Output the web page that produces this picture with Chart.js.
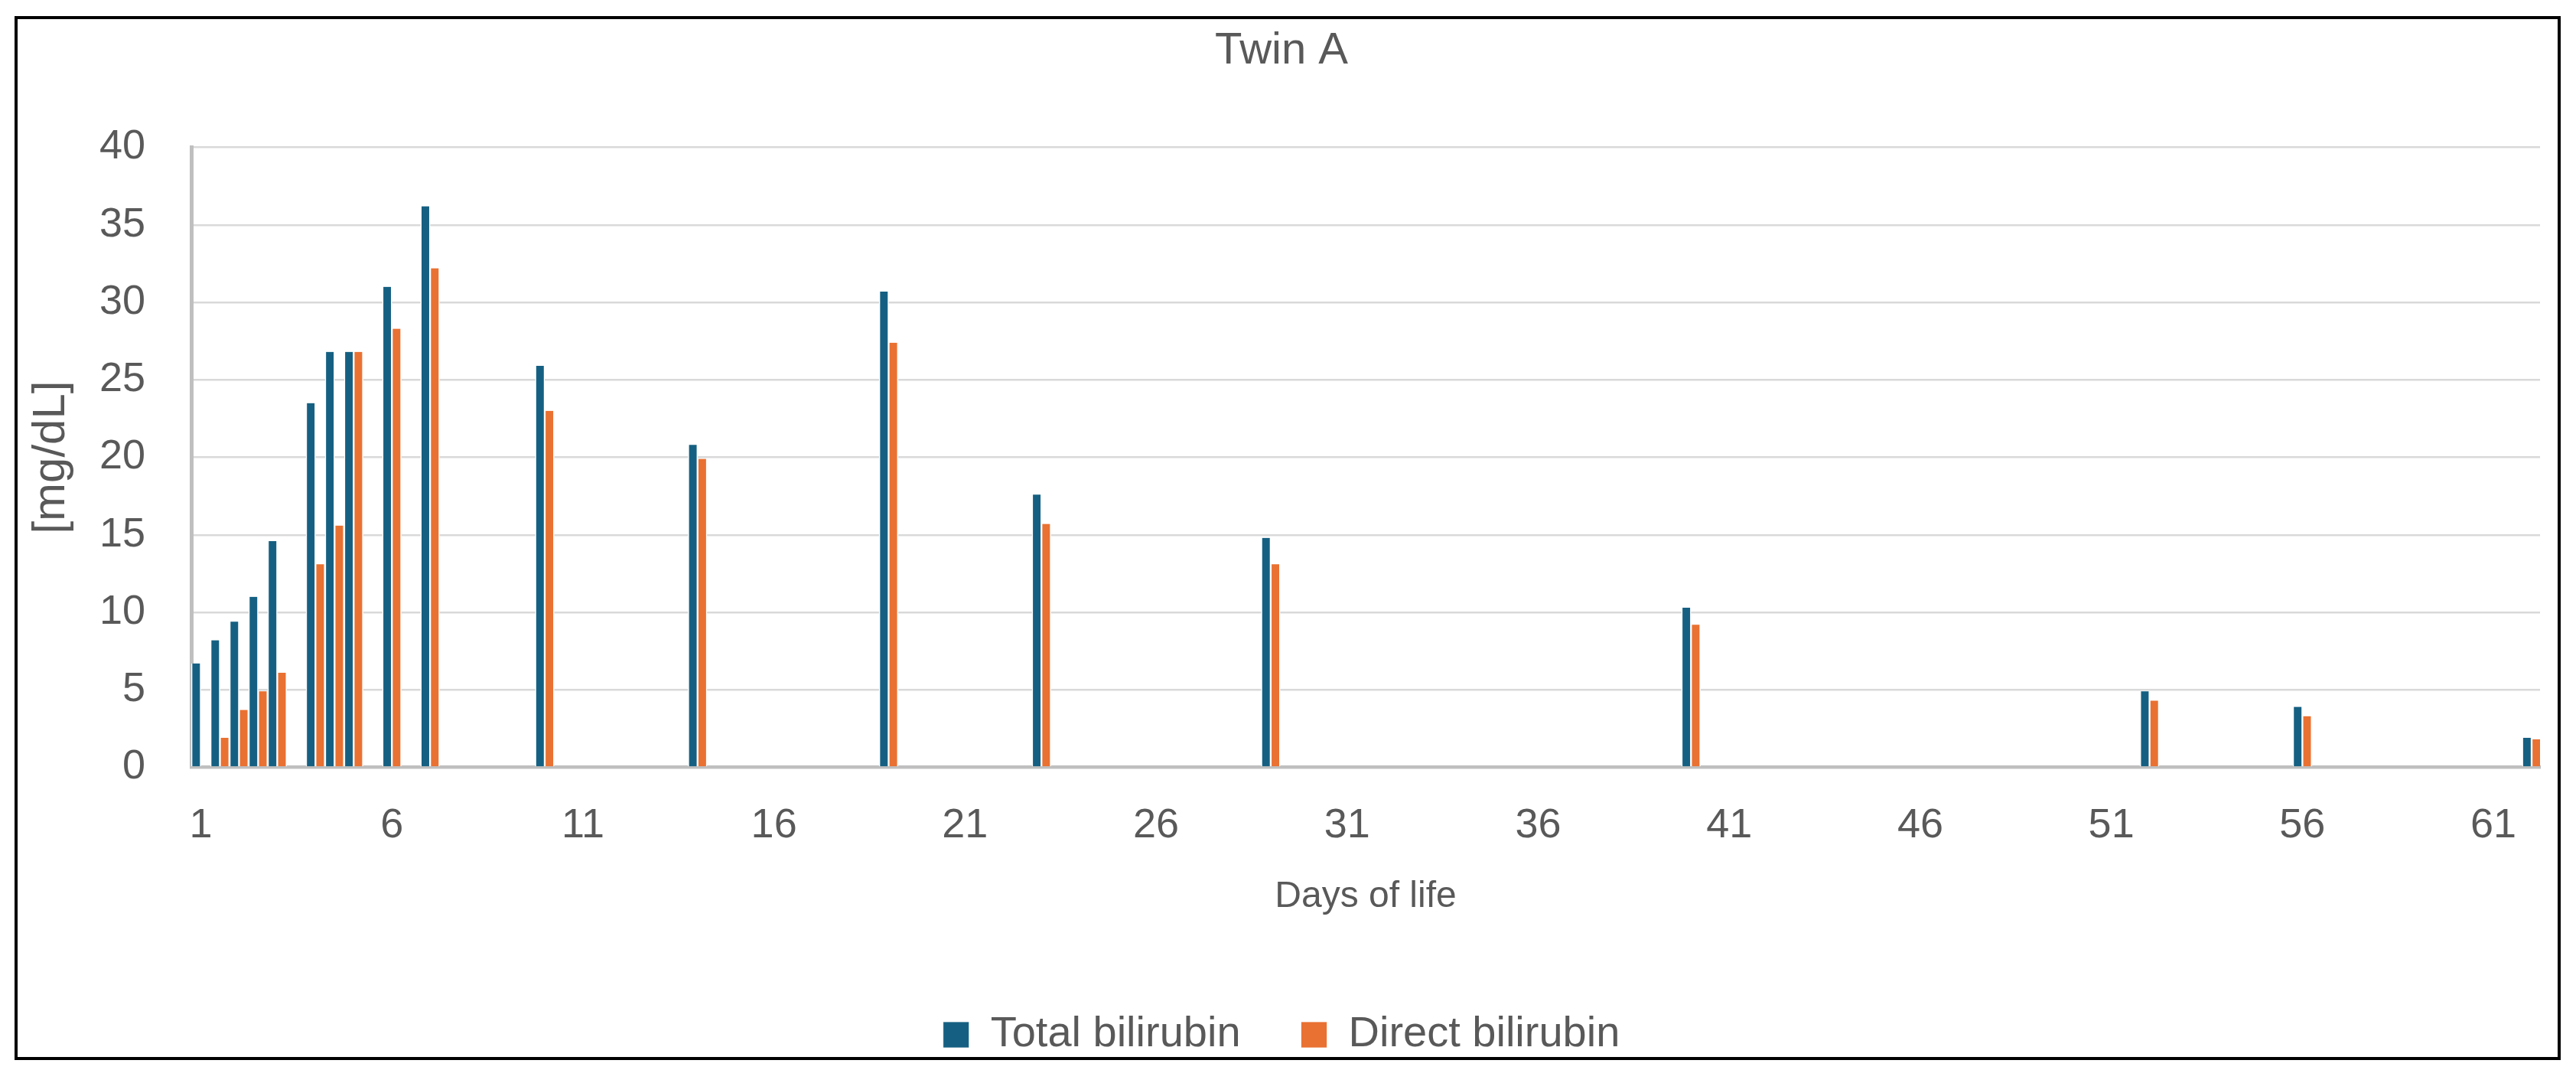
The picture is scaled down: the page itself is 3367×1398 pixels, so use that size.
<!DOCTYPE html>
<html>
<head>
<meta charset="utf-8">
<title>Twin A</title>
<script src="https://cdn.jsdelivr.net/npm/chart.js@4.4.1/dist/chart.umd.min.js"></script>
<style>
    html, body { margin: 0; padding: 0; background: #ffffff; overflow: hidden; }
    canvas { display: block; }
</style>
</head>
<body>
<canvas id="myChartTwinA" width="3367" height="1398"></canvas>
<script>
// days of life (two draws a day in the first days)
var dias = [1, 1.5, 2, 2.5, 3, 4, 4.5, 5, 6, 7, 10, 14, 19, 23, 29, 40, 52, 56, 62];
var bilTotal = [6.7, 8.2, 9.4, 11.0, 14.6, 23.5, 26.8, 26.8, 31.0, 36.2, 25.9, 20.8, 30.7, 17.6, 14.8, 10.3, 4.9, 3.9, 1.9];
var bilDireta = [null, 1.9, 3.7, 4.9, 6.1, 13.1, 15.6, 26.8, 28.3, 32.2, 23.0, 19.9, 27.4, 15.7, 13.1, 9.2, 4.3, 3.3, 1.8];
var xTicks = [1, 6, 11, 16, 21, 26, 31, 36, 41, 46, 51, 56, 61];
var xMin = 0.75;
var xMax = 62.22;
var yMax = 40;
var yStep = 5;

var cinza = '#595959';
Chart.defaults.font.family = '"Liberation Sans", Arial, sans-serif';
Chart.defaults.color = cinza;

function pontos(valores) {
    return dias.map(function (d, i) {
        return { x: d, y: valores[i] };
    });
}

// black frame round the whole chart
var moldura = {
    id: 'moldura',
    afterDraw: function (chart) {
        var c = chart.ctx;
        c.save();
        c.strokeStyle = '#000000';
        c.lineWidth = 4;
        c.strokeRect(21, 23, 3324, 1360);
        c.restore();
    }
};

const ctxTwin = document.getElementById('myChartTwinA');

var chartTwin = new Chart(ctxTwin, {
    type: 'bar',
    data: {
        datasets: [{
            label: 'Total bilirubin',
            data: pontos(bilTotal),
            backgroundColor: '#156082',
            borderColor: '#ffffff',
            borderWidth: { left: 1.5, right: 1.5, top: 0, bottom: 0 },
            barThickness: 12.3,
        }, {
            label: 'Direct bilirubin',
            data: pontos(bilDireta),
            backgroundColor: '#E97132',
            borderColor: '#ffffff',
            borderWidth: { left: 1.5, right: 1.5, top: 0, bottom: 0 },
            barThickness: 12.3,
        }]
    },
    plugins: [moldura],
    options: {
        responsive: false,
        devicePixelRatio: 1,
        animation: false,
        layout: {
            padding: { left: 30, right: 47, top: 0, bottom: 8 }
        },
        plugins: {
            title: {
                display: true,
                text: 'Twin A',
                color: cinza,
                font: { size: 58, weight: 'normal' },
                padding: { top: 32, bottom: 91 }
            },
            legend: {
                display: true,
                position: 'bottom',
                labels: {
                    color: cinza,
                    boxWidth: 34,
                    boxHeight: 34,
                    padding: 79,
                    font: { size: 56 }
                }
            },
            tooltip: { enabled: false }
        },
        scales: {
            x: {
                type: 'linear',
                min: xMin,
                max: xMax,
                offset: false,
                bounds: 'data',
                grid: { display: false, drawTicks: false },
                border: { display: true, color: '#bfbfbf', width: 4.5 },
                afterBuildTicks: function (scale) {
                    scale.ticks = xTicks.map(function (v) { return { value: v }; });
                },
                afterFit: function (scale) {
                    scale.height = 242.5;
                },
                ticks: {
                    color: cinza,
                    font: { size: 54 },
                    padding: 44,
                    maxRotation: 0,
                    autoSkip: false
                },
                title: {
                    display: true,
                    text: 'Days of life',
                    color: cinza,
                    font: { size: 48 },
                    padding: { top: 0, bottom: 44 }
                }
            },
            y: {
                min: 0,
                max: yMax,
                grid: { color: '#d9d9d9', lineWidth: 2.5, drawTicks: false },
                border: { display: true, color: '#bfbfbf', width: 5 },
                afterFit: function (scale) {
                    scale.width = 220;
                },
                ticks: {
                    stepSize: yStep,
                    color: cinza,
                    font: { size: 54 },
                    padding: 60
                },
                title: {
                    display: true,
                    text: '[mg/dL]',
                    color: cinza,
                    font: { size: 60 },
                    padding: { top: 1, bottom: 0 }
                }
            }
        }
    }
});
</script>
</body>
</html>
